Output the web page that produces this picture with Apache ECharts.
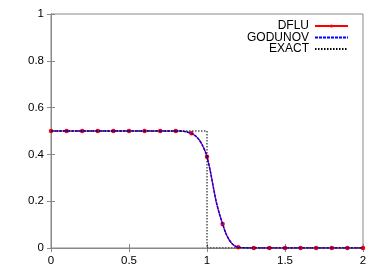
<!DOCTYPE html>
<html>
<head>
<meta charset="utf-8">
<script src="https://cdn.jsdelivr.net/npm/echarts@6/dist/echarts.min.js"></script>
<style>html,body{margin:0;padding:0;background:#fff}#c{width:389px;height:273px}</style>
</head>
<body>
<div id="c"></div>
<script>
const xTicks = [0, 0.5, 1, 1.5, 2];
const yTicks = [0, 0.2, 0.4, 0.6, 0.8, 1];

// DFLU: values; markers drawn at every 0.1
const dfluX = [0, 0.1, 0.2, 0.3, 0.4, 0.5, 0.6, 0.7, 0.8, 0.85, 0.9, 0.93, 0.95, 0.97, 0.99, 1.0, 1.02, 1.04, 1.06, 1.08, 1.1, 1.12, 1.14, 1.16, 1.18, 1.2, 1.25, 1.3, 1.4, 1.5, 1.6, 1.7, 1.8, 1.9, 2.0];
const dfluY = [0.5, 0.5, 0.5, 0.5, 0.5, 0.5, 0.5, 0.5, 0.5, 0.499, 0.49, 0.477, 0.462, 0.44, 0.41, 0.39, 0.333, 0.262, 0.195, 0.145, 0.103, 0.064, 0.037, 0.019, 0.008, 0.003, 0.0005, 0, 0, 0, 0, 0, 0, 0, 0];
const dfluMarkX = [0, 0.1, 0.2, 0.3, 0.4, 0.5, 0.6, 0.7, 0.8, 0.9, 1.0, 1.1, 1.2, 1.3, 1.4, 1.5, 1.6, 1.7, 1.8, 1.9, 2.0];

const godX = [0, 0.2, 0.4, 0.6, 0.8, 0.85, 0.9, 0.93, 0.95, 0.97, 0.99, 1.0, 1.02, 1.04, 1.06, 1.08, 1.1, 1.12, 1.14, 1.16, 1.18, 1.2, 1.25, 1.5, 2.0];
const godY = [0.5, 0.5, 0.5, 0.5, 0.5, 0.499, 0.49, 0.477, 0.462, 0.44, 0.41, 0.39, 0.333, 0.262, 0.195, 0.145, 0.103, 0.064, 0.037, 0.019, 0.008, 0.003, 0.0005, 0, 0];

const exactX = [0, 1, 1, 2];
const exactY = [0.5, 0.5, 0, 0];

const zip = (a, b) => a.map((v, i) => [v, b[i]]);
const dfluData = dfluX.map((x, i) => {
  const marked = dfluMarkX.some(m => Math.abs(m - x) < 1e-9);
  return marked ? {value: [x, dfluY[i]]} : {value: [x, dfluY[i]], symbol: 'none'};
});

const chart = echarts.init(document.getElementById('c'), null, {renderer: 'canvas'});
const font = 'Liberation Sans, Arial, sans-serif';
const axisColor = '#888';

function legendAt(name, top, hideSymbol) {
  const l = {
    data: [name], right: 40, top: top, orient: 'vertical', align: 'right',
    itemWidth: 33, itemHeight: 4, itemGap: 7, padding: 0,
    textStyle: {fontSize: 12, fontFamily: font, color: '#000', padding: [0, 1, 0, 0]},
    selectedMode: false
  };
  if (hideSymbol) l.itemStyle = {color: 'rgba(0,0,0,0)', borderWidth: 0};
  return l;
}

chart.setOption({
  animation: false,
  grid: {left: 51, right: 26, top: 14, bottom: 25, show: true, borderColor: axisColor, borderWidth: 1},
  legend: [legendAt('DFLU', 20, false), legendAt('GODUNOV', 31.5, true), legendAt('EXACT', 43, true)],
  xAxis: [{
    type: 'value', min: 0, max: 2, interval: 0.5,
    axisLine: {show: true, lineStyle: {color: axisColor}},
    axisTick: {show: true, inside: true, length: 4, lineStyle: {color: axisColor}},
    axisLabel: {color: '#000', fontSize: 11.5, fontFamily: font, margin: 7,
      formatter: v => xTicks.includes(v) ? String(v) : ''},
    splitLine: {show: false}
  }, {
    type: 'value', position: 'top', min: 0, max: 2, interval: 0.5,
    axisLine: {show: true, lineStyle: {color: axisColor}},
    axisTick: {show: true, inside: true, length: 4, lineStyle: {color: axisColor}},
    axisLabel: {show: false}, splitLine: {show: false}
  }],
  yAxis: [{
    type: 'value', min: 0, max: 1, interval: 0.2,
    axisLine: {show: true, lineStyle: {color: axisColor}},
    axisTick: {show: true, inside: true, length: 4, lineStyle: {color: axisColor}},
    axisLabel: {color: '#000', fontSize: 11.5, fontFamily: font, margin: 7,
      formatter: v => { const t = yTicks.find(y => Math.abs(y - v) < 1e-9); return t === undefined ? '' : String(t); }},
    splitLine: {show: false}
  }, {
    type: 'value', position: 'right', min: 0, max: 1, interval: 0.2,
    axisLine: {show: true, lineStyle: {color: axisColor}},
    axisTick: {show: true, inside: true, length: 4, lineStyle: {color: axisColor}},
    axisLabel: {show: false}, splitLine: {show: false}
  }],
  series: [{
    name: 'DFLU', type: 'line', data: dfluData,
    symbol: 'circle', symbolSize: 4.5, showAllSymbol: true, smooth: 0.2,
    itemStyle: {color: '#ff0000'},
    lineStyle: {color: '#ff0000', width: 1.2},
    z: 2
  }, {
    name: 'GODUNOV', type: 'line', data: zip(godX, godY),
    symbol: 'none', smooth: 0.2,
    itemStyle: {color: '#0000ff'},
    lineStyle: {color: '#0000ff', width: 1.5, type: [3, 1]},
    z: 3
  }, {
    name: 'EXACT', type: 'line', data: zip(exactX, exactY),
    symbol: 'none',
    itemStyle: {color: '#000'},
    lineStyle: {color: '#000', width: 1, type: [1.5, 1.5]},
    z: 4
  }]
});
</script>
</body>
</html>
